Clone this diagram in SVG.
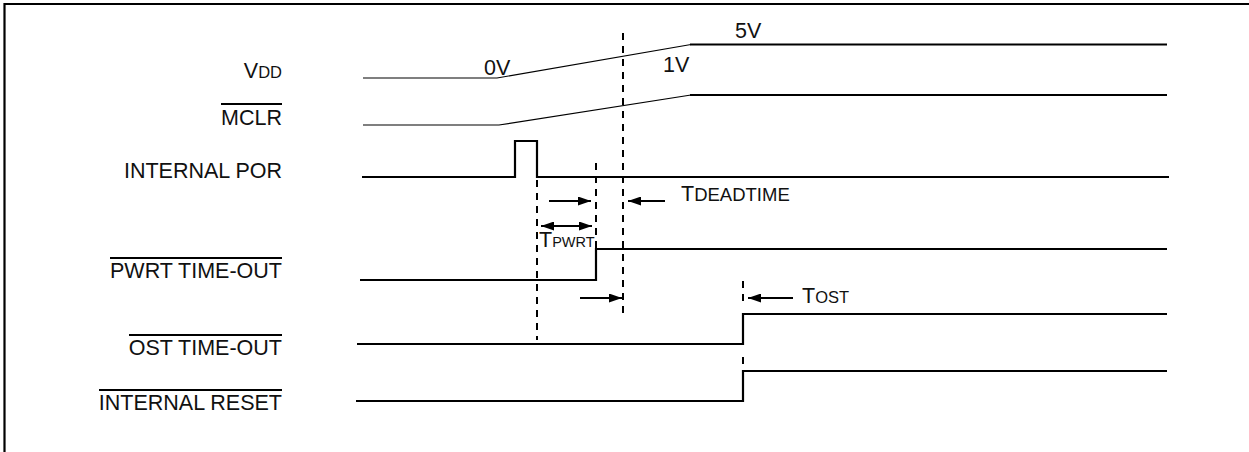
<svg xmlns="http://www.w3.org/2000/svg" width="1249" height="452" viewBox="0 0 1249 452">
<style>
text{font-family:"Liberation Sans",Arial,sans-serif;font-size:21.5px;fill:#111}
.lbl{text-anchor:end}
.sc{font-size:16.5px}
.w{fill:none;stroke:#000;stroke-width:2.2}
.thin{fill:none;stroke:#000;stroke-width:1.2}
.ob{stroke:#000;stroke-width:2}
.dash{fill:none;stroke:#000;stroke-width:2;stroke-dasharray:7 6}
.arr{fill:none;stroke:#000;stroke-width:2}
</style>
<defs>
<marker id="ah" viewBox="0 0 13 9" refX="13" refY="4.5" markerWidth="13" markerHeight="9" markerUnits="userSpaceOnUse" orient="auto-start-reverse">
<path d="M0,0 L13,4.5 L0,9 Z" fill="#000"/>
</marker>
</defs>
<rect width="1249" height="452" fill="#fff"/>
<path d="M4.5,452 V4 H1249" fill="none" stroke="#000" stroke-width="2.2"/>

<g id="vdd">
<text class="lbl" x="282" y="78"><tspan>V</tspan><tspan class="sc">DD</tspan></text>
<path class="thin" d="M363,78 H497 L691,44.5"/>
<path class="w" d="M690,44.5 H1167"/>
<text x="484" y="75">0V</text>
<text x="735" y="38">5V</text>
<text x="663" y="72">1V</text>
</g>

<g id="mclr">
<text class="lbl" x="282" y="125">MCLR</text>
<line class="ob" x1="221" y1="104" x2="282" y2="104"/>
<path class="thin" d="M363,125 H499 L691,95"/>
<path class="w" d="M690,95 H1167"/>
</g>

<g id="internal-por">
<text class="lbl" x="282" y="178">INTERNAL POR</text>
<path class="w" d="M362,177 H515 V141 H537 V177 H1169"/>
</g>

<g id="pwrt-timeout">
<text class="lbl" x="282" y="278">PWRT TIME-OUT</text>
<line class="ob" x1="110" y1="258" x2="282" y2="258"/>
<path class="w" d="M360,280 H596 V249 H1167"/>
</g>

<g id="ost-timeout">
<text class="lbl" x="282" y="355">OST TIME-OUT</text>
<line class="ob" x1="129" y1="335" x2="282" y2="335"/>
<path class="w" d="M357,344 H743 V314 H1167"/>
</g>

<g id="internal-reset">
<text class="lbl" x="282" y="410">INTERNAL RESET</text>
<line class="ob" x1="99" y1="390" x2="282" y2="390"/>
<path class="w" d="M356,401 H743 V371 H1167"/>
</g>

<g id="connectors">
<line class="dash" x1="537" y1="180" x2="537" y2="340"/>
<line class="dash" x1="596" y1="163" x2="596" y2="249"/>
<line class="dash" x1="623" y1="33" x2="623" y2="318"/>
<line class="dash" x1="743" y1="281" x2="743" y2="302"/>
<line class="dash" x1="743" y1="357" x2="743" y2="368"/>
<line class="arr" x1="549" y1="201" x2="591" y2="201" marker-end="url(#ah)"/>
<line class="arr" x1="665" y1="201" x2="628" y2="201" marker-end="url(#ah)"/>
<line class="arr" x1="541" y1="226" x2="592" y2="226" marker-start="url(#ah)" marker-end="url(#ah)"/>
<line class="arr" x1="580" y1="298" x2="622" y2="298" marker-end="url(#ah)"/>
<line class="arr" x1="793" y1="298" x2="748" y2="298" marker-end="url(#ah)"/>
</g>

<g id="labels">
<text x="681" y="201"><tspan>T</tspan><tspan font-size="18.5px">DEADTIME</tspan></text>
<text x="539" y="247"><tspan>T</tspan><tspan font-size="14.5px">PWRT</tspan></text>
<text x="802" y="303"><tspan>T</tspan><tspan class="sc">OST</tspan></text>
</g>
</svg>
